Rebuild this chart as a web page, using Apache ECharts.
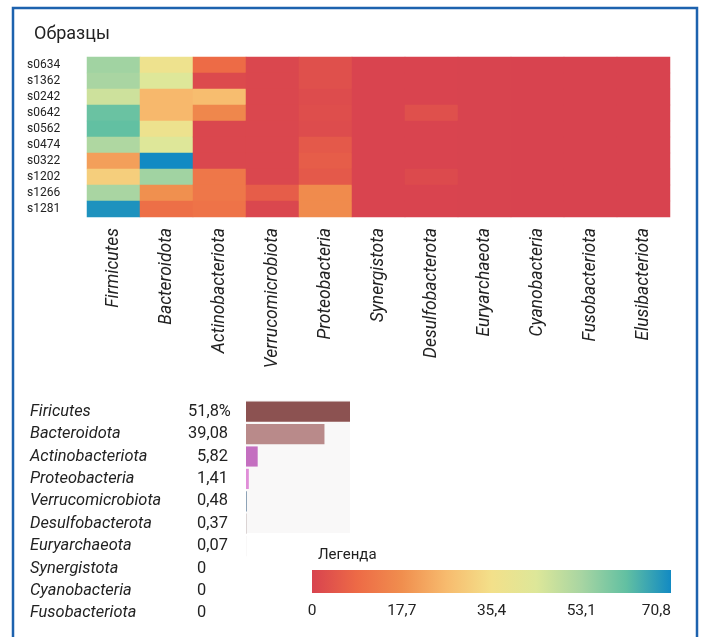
<!DOCTYPE html>
<html>
<head>
<meta charset="utf-8">
<script src="https://cdn.jsdelivr.net/npm/echarts@6/dist/echarts.min.js"></script>
<style>
  html, body { margin: 0; padding: 0; background: #fff; }
  #chart { width: 704px; height: 637px; }
</style>
</head>
<body>
<div id="chart"></div>
<script>
var FONT = "'Roboto', 'Liberation Sans', sans-serif";

// heatmap: samples x phyla
var samples = ['s0634', 's1362', 's0242', 's0642', 's0562', 's0474', 's0322', 's1202', 's1266', 's1281'];
var phyla = ['Firmicutes', 'Bacteroidota', 'Actinobacteriota', 'Verrucomicrobiota', 'Proteobacteria',
  'Synergistota', 'Desulfobacterota', 'Euryarchaeota', 'Cyanobacteria', 'Fusobacteriota', 'Elusibacteriota'];

var firmicutes        = [54, 53, 47, 61, 62, 52, 21, 31, 53, 69.5];
var bacteroidota      = [37.5, 44, 26, 26, 38, 44, 70.8, 54, 18, 10];
var actinobacteriota  = [9, 1.5, 27, 16, 1, 1, 1, 12, 12, 11];
var verrucomicrobiota = [0.8, 0.8, 1, 0.8, 0.8, 0.8, 0.8, 1, 6, 1];
var proteobacteria    = [3, 3, 2, 2.5, 2, 5, 6, 5, 17, 17];
var synergistota      = [0.3, 0.3, 0.3, 0.3, 0.3, 0.3, 0.3, 0.3, 0.3, 0.3];
var desulfobacterota  = [0.3, 0.3, 0.3, 3, 0.3, 0.3, 0.3, 1.5, 0.3, 0.3];
var euryarchaeota     = [0.2, 0.2, 0.2, 0.2, 0.2, 0.2, 0.2, 0.2, 0.2, 0.2];
var cyanobacteria     = [0.1, 0.1, 0.1, 0.1, 0.1, 0.1, 0.1, 0.1, 0.1, 0.1];
var fusobacteriota    = [0.1, 0.1, 0.1, 0.1, 0.1, 0.1, 0.1, 0.1, 0.1, 0.1];
var elusibacteriota   = [0.1, 0.1, 0.1, 0.1, 0.1, 0.1, 0.1, 0.1, 0.1, 0.1];

var columns = [firmicutes, bacteroidota, actinobacteriota, verrucomicrobiota, proteobacteria,
  synergistota, desulfobacterota, euryarchaeota, cyanobacteria, fusobacteriota, elusibacteriota];

// mean abundance list
var shareNames = ['Firicutes', 'Bacteroidota', 'Actinobacteriota', 'Proteobacteria', 'Verrucomicrobiota',
  'Desulfobacterota', 'Euryarchaeota', 'Synergistota', 'Cyanobacteria', 'Fusobacteriota'];
var shareValues = [51.8, 39.08, 5.82, 1.41, 0.48, 0.37, 0.07, 0, 0, 0];
var shareColors = ['#8c5251', '#b98a8a', '#c46fc0', '#e08ed8', '#8aa0b5', '#d0c8c8', '#d0c8c8', '#ccc', '#ccc', '#ccc'];

// colour legend ticks
var legendTicks = [0, 17.7, 35.4, 53.1, 70.8];
var palette = ['#d8434f', '#ed6a46', '#f08e4e', '#f7bb6e', '#f3e08a', '#dde799', '#a8d5a2', '#62c0a2', '#128ac3'];

var heatData = [];
columns.forEach(function (col, j) {
  col.forEach(function (v, i) { heatData.push([j, i, v]); });
});

var comma = function (v) { return String(v).replace('.', ','); };

var gradient = {
  type: 'linear', x: 0, y: 0, x2: 1, y2: 0,
  colorStops: palette.map(function (c, i) { return { offset: i / (palette.length - 1), color: c }; })
};

var labelText = { fontSize: 16.4, color: '#222', fontFamily: FONT };

var chart = echarts.init(document.getElementById('chart'));
chart.setOption({
  backgroundColor: '#fff',
  textStyle: { fontFamily: FONT },
  animation: false,
  title: [
    { text: 'Образцы', left: 29, top: 20, textStyle: { fontFamily: FONT, fontSize: 18, fontWeight: 'normal', color: '#222' } },
    { text: 'Легенда', left: 313, top: 543, textStyle: { fontFamily: FONT, fontSize: 15, fontWeight: 'normal', color: '#222' } }
  ],
  graphic: [
    { type: 'rect', shape: { x: 13, y: 8, width: 684, height: 660 }, style: { fill: 'none', stroke: '#1d62ae', lineWidth: 2.5 }, silent: true },
    { type: 'rect', shape: { x: 246, y: 400, width: 104, height: 133 }, style: { fill: '#f9f8f8' }, silent: true, z: -1 }
  ],
  grid: [
    { left: 87, top: 57, width: 583, height: 160 },
    { left: 246, top: 400.5, width: 104, height: 224 },
    { left: 312, top: 570, width: 359, height: 23, show: true, borderWidth: 0, backgroundColor: gradient }
  ],
  visualMap: {
    show: false, min: legendTicks[0], max: legendTicks[legendTicks.length - 1],
    seriesIndex: 0, inRange: { color: palette }
  },
  xAxis: [
    {
      gridIndex: 0, type: 'category', data: phyla, position: 'bottom',
      axisLine: { show: false }, axisTick: { show: false }, splitArea: { show: false },
      axisLabel: { rotate: 90, margin: 11, fontSize: 17.5, fontStyle: 'italic', color: '#222', fontFamily: FONT, interval: 0 }
    },
    { gridIndex: 1, type: 'value', min: 0, max: shareValues[0], show: false },
    {
      gridIndex: 2, type: 'value', min: legendTicks[0], max: legendTicks[legendTicks.length - 1],
      interval: legendTicks[1],
      axisLine: { show: false }, axisTick: { show: false }, splitLine: { show: false },
      axisLabel: {
        margin: 10, fontSize: 15.5, color: '#222', fontFamily: FONT, alignMaxLabel: 'right',
        formatter: function (v) { return comma(+v.toFixed(1)); }
      }
    }
  ],
  yAxis: [
    {
      gridIndex: 0, type: 'category', data: samples, inverse: true,
      axisLine: { show: false }, axisTick: { show: false }, splitArea: { show: false },
      axisLabel: { align: 'left', margin: 60, fontSize: 12, color: '#222', fontFamily: FONT, interval: 0 }
    },
    {
      gridIndex: 1, type: 'category', data: shareNames, inverse: true,
      axisLine: { show: false }, axisTick: { show: false },
      axisLabel: {
        margin: 12, interval: 0,
        formatter: function (v, i) {
          var txt = comma(shareValues[i]) + (i === 0 ? '%' : '');
          var twoDigit = txt.split(',')[0].length >= 2;
          return twoDigit ? '{a|' + v + '}{x|' + txt + '}' : '{b|' + v + '}{y|' + txt + '}';
        },
        rich: {
          a: Object.assign({ width: 158, align: 'left', fontStyle: 'italic' }, labelText),
          b: Object.assign({ width: 167, align: 'left', fontStyle: 'italic' }, labelText),
          x: Object.assign({ width: 46, align: 'left' }, labelText),
          y: Object.assign({ width: 37, align: 'left' }, labelText)
        }
      }
    },
    { gridIndex: 2, type: 'category', data: [''], show: false }
  ],
  series: [
    {
      type: 'heatmap', xAxisIndex: 0, yAxisIndex: 0, data: heatData,
      itemStyle: { borderWidth: 0 }, emphasis: { disabled: true }
    },
    {
      type: 'bar', xAxisIndex: 1, yAxisIndex: 1, barCategoryGap: '10%',
      data: shareValues.map(function (v, i) { return { value: v, itemStyle: { color: shareColors[i] } }; })
    }
  ]
});
</script>
</body>
</html>
